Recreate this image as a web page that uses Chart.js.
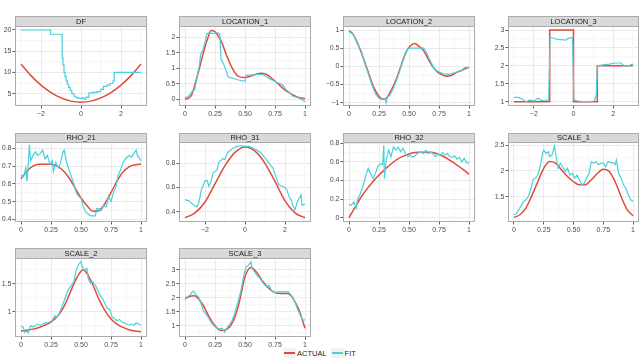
<!DOCTYPE html>
<html>
<head>
<meta charset="utf-8">
<title>Estimated parameters</title>
<script src="https://cdn.jsdelivr.net/npm/chart.js@4.4.1/dist/chart.umd.min.js"></script>
<style>
  body { margin: 0; width: 640px; height: 361px; overflow: hidden; background: #fff; position: relative;
         font-family: "Liberation Sans", Arial, sans-serif; }
  canvas { position: absolute; }
  #legend { position: absolute; top: 348px; left: 283px; font-size: 7.5px; color: #1a1a1a;
            display: flex; align-items: center; }
  .key { width: 13px; height: 10px; background: #f2f2f2; position: relative; margin-right: 1px; }
  .key i { position: absolute; left: 1px; right: 1px; top: 4px; height: 1.6px; }
  .lab { margin-right: 4px; }
</style>
</head>
<body>
<div id="legend">
  <span class="key"><i style="background:#e24a3b"></i></span><span class="lab">ACTUAL</span>
  <span class="key"><i style="background:#48d1de"></i></span><span class="lab">FIT</span>
</div>
<script>
// tick labels
const xTicks01 = ['0', '0.25', '0.50', '0.75', '1'];
const xTicks3 = ['−2', '0', '2'];
const dfYTicks = ['5', '10', '15', '20'];
const loc1YTicks = ['0', '0.5', '1', '1.5', '2'];
const loc2YTicks = ['−1', '−0.5', '0', '0.5', '1'];
const loc3YTicks = ['1', '1.5', '2', '2.5', '3'];
const rho21YTicks = ['0.4', '0.5', '0.6', '0.7', '0.8'];
const rho31YTicks = ['0.4', '0.6', '0.8'];
const rho32YTicks = ['0', '0.2', '0.4', '0.6', '0.8'];
const scale1YTicks = ['1.5', '2', '2.5'];
const scale2YTicks = ['1', '1.5'];
const scale3YTicks = ['1', '1.5', '2', '2.5', '3'];

// series, [x, y] pairs
const dfActual = [[-3,12],[-2.5,9.25],[-2,7],[-1.5,5.25],[-1,4],[-0.5,3.25],[0,3],[0.5,3.25],[1,4],[1.5,5.25],[2,7],[2.5,9.25],[3,12]];
const dfFit = [[-3,20],[-1.52,19],[-0.94,13.5],[-0.9,11.8],[-0.85,10],[-0.8,9],[-0.74,8],[-0.68,7.2],[-0.62,6.5],[-0.54,5.8],[-0.46,5],[-0.36,4.4],[-0.24,4],[-0.1,3.9],[0.05,4],[0.14,3.7],[0.25,4.2],[0.4,5.2],[0.6,5.3],[0.8,5.5],[0.98,6],[1.12,6.7],[1.3,7],[1.45,7.4],[1.6,8],[1.66,10],[3,10]];

const loc1Actual = [[0,0],[0.05,0.1],[0.1,0.72],[0.13,1.15],[0.16,1.6],[0.19,1.98],[0.22,2.22],[0.25,2.18],[0.28,2.02],[0.31,1.8],[0.35,1.38],[0.4,0.96],[0.45,0.73],[0.5,0.7],[0.55,0.75],[0.6,0.82],[0.64,0.84],[0.69,0.78],[0.73,0.65],[0.77,0.52],[0.83,0.31],[0.88,0.18],[0.94,0.07],[1,0.02]];
const loc1Fit = [[0,0.05],[0.03,0.1],[0.06,0.25],[0.08,0.3],[0.1,0.7],[0.12,1.1],[0.13,1.45],[0.15,1.6],[0.17,1.9],[0.18,2.1],[0.2,2.15],[0.24,2.12],[0.27,2.15],[0.29,2.1],[0.3,1.3],[0.32,1.15],[0.34,0.95],[0.36,0.72],[0.4,0.68],[0.44,0.63],[0.47,0.6],[0.5,0.58],[0.51,0.78],[0.56,0.78],[0.6,0.8],[0.64,0.8],[0.67,0.76],[0.71,0.65],[0.74,0.6],[0.76,0.55],[0.78,0.52],[0.81,0.48],[0.84,0.32],[0.87,0.22],[0.9,0.1],[0.94,0.05],[0.97,0],[1,-0.08]];

const loc2Actual = [[0,0.98],[0.03,0.9],[0.06,0.72],[0.1,0.4],[0.14,0.03],[0.17,-0.25],[0.2,-0.53],[0.24,-0.78],[0.28,-0.9],[0.31,-0.88],[0.35,-0.67],[0.39,-0.39],[0.43,-0.02],[0.47,0.35],[0.51,0.56],[0.55,0.63],[0.58,0.56],[0.62,0.44],[0.65,0.26],[0.69,0.03],[0.73,-0.13],[0.77,-0.22],[0.81,-0.27],[0.85,-0.25],[0.89,-0.18],[0.94,-0.11],[1,-0.02]];
const loc2Fit = [[0,0.95],[0.02,0.92],[0.04,0.85],[0.06,0.7],[0.08,0.55],[0.1,0.45],[0.13,0.1],[0.16,-0.2],[0.19,-0.5],[0.22,-0.75],[0.25,-0.88],[0.28,-0.92],[0.3,-0.9],[0.31,-1],[0.32,-0.85],[0.34,-0.8],[0.37,-0.6],[0.4,-0.35],[0.43,-0.05],[0.46,0.25],[0.49,0.5],[0.55,0.5],[0.62,0.5],[0.64,0.42],[0.67,0.2],[0.7,0],[0.72,-0.1],[0.75,-0.15],[0.78,-0.2],[0.82,-0.22],[0.86,-0.2],[0.9,-0.15],[0.94,-0.1],[0.97,-0.02],[1,-0.05]];

const loc3Actual = [[-3,1],[-1.2,3],[0,1],[1.2,2],[3,2]];
const loc3Fit = [[-3,1.12],[-2.8,1.12],[-2.6,1.08],[-2.4,1],[-2.2,1.05],[-2,1.02],[-1.8,1.1],[-1.6,1.03],[-1.4,1.04],[-1.25,1.05],[-1.18,2.8],[-1,2.77],[-0.8,2.74],[-0.6,2.73],[-0.4,2.72],[-0.2,2.78],[-0.05,2.78],[0.02,1.05],[0.2,1.02],[0.5,1],[0.8,1],[1.05,1.02],[1.15,1.2],[1.2,2],[1.5,2.03],[1.8,2.05],[2.1,2.08],[2.4,2.08],[2.55,2],[2.8,2],[2.95,2.05],[3,2]];

const rho21Actual = [[0,0.628],[0.05,0.672],[0.1,0.7],[0.15,0.71],[0.2,0.71],[0.25,0.71],[0.3,0.7],[0.35,0.675],[0.4,0.634],[0.45,0.577],[0.5,0.52],[0.55,0.477],[0.6,0.445],[0.65,0.45],[0.7,0.49],[0.75,0.55],[0.8,0.615],[0.85,0.666],[0.9,0.696],[0.95,0.708],[1,0.71]];
const rho21Fit = [[0,0.65],[0.02,0.64],[0.03,0.66],[0.04,0.69],[0.05,0.615],[0.06,0.7],[0.07,0.82],[0.08,0.73],[0.1,0.76],[0.12,0.78],[0.14,0.76],[0.16,0.77],[0.18,0.79],[0.2,0.74],[0.22,0.76],[0.24,0.71],[0.26,0.73],[0.27,0.67],[0.29,0.72],[0.31,0.69],[0.33,0.72],[0.35,0.78],[0.36,0.79],[0.38,0.72],[0.4,0.68],[0.42,0.64],[0.44,0.6],[0.46,0.55],[0.48,0.53],[0.5,0.52],[0.52,0.47],[0.54,0.44],[0.56,0.43],[0.58,0.42],[0.6,0.42],[0.62,0.42],[0.63,0.46],[0.65,0.46],[0.67,0.45],[0.69,0.48],[0.71,0.47],[0.73,0.53],[0.75,0.5],[0.77,0.55],[0.79,0.58],[0.81,0.65],[0.83,0.68],[0.85,0.72],[0.87,0.74],[0.9,0.76],[0.92,0.75],[0.94,0.77],[0.96,0.79],[0.97,0.76],[0.98,0.75],[1,0.73]];

const rho31Actual = [[-3,0.35],[-2.5,0.39],[-2,0.48],[-1.5,0.63],[-1,0.78],[-0.5,0.89],[0,0.935],[0.5,0.9],[1,0.8],[1.5,0.65],[2,0.49],[2.5,0.39],[3,0.35]];
const rho31Fit = [[-3,0.5],[-2.8,0.49],[-2.6,0.46],[-2.4,0.44],[-2.3,0.48],[-2.2,0.57],[-2,0.655],[-1.9,0.66],[-1.8,0.61],[-1.7,0.65],[-1.6,0.72],[-1.4,0.745],[-1.3,0.81],[-1.1,0.84],[-1,0.83],[-0.9,0.885],[-0.8,0.9],[-0.6,0.925],[-0.4,0.94],[-0.2,0.945],[0,0.94],[0.2,0.94],[0.4,0.925],[0.6,0.91],[0.8,0.885],[1,0.845],[1.2,0.8],[1.4,0.76],[1.6,0.665],[1.7,0.62],[2,0.6],[2.1,0.58],[2.2,0.525],[2.3,0.5],[2.4,0.45],[2.5,0.415],[2.6,0.475],[2.8,0.54],[2.85,0.455],[3,0.46]];

const rho32Actual = [[0,0],[0.05,0.11],[0.1,0.22],[0.15,0.31],[0.2,0.39],[0.25,0.46],[0.3,0.52],[0.35,0.577],[0.4,0.627],[0.45,0.66],[0.5,0.685],[0.55,0.7],[0.6,0.703],[0.65,0.705],[0.7,0.7],[0.75,0.68],[0.8,0.65],[0.85,0.61],[0.9,0.566],[0.95,0.52],[1,0.466]];
const rho32Fit = [[0,0.14],[0.02,0.135],[0.04,0.17],[0.06,0.1],[0.07,0.19],[0.09,0.245],[0.11,0.315],[0.13,0.405],[0.15,0.495],[0.16,0.53],[0.18,0.475],[0.2,0.42],[0.22,0.475],[0.24,0.55],[0.26,0.58],[0.28,0.57],[0.29,0.78],[0.295,0.42],[0.31,0.62],[0.33,0.73],[0.35,0.655],[0.37,0.76],[0.39,0.73],[0.41,0.76],[0.43,0.71],[0.45,0.745],[0.47,0.69],[0.49,0.655],[0.51,0.67],[0.53,0.65],[0.55,0.665],[0.57,0.69],[0.6,0.71],[0.62,0.69],[0.64,0.725],[0.66,0.69],[0.68,0.71],[0.7,0.69],[0.72,0.655],[0.74,0.69],[0.76,0.675],[0.78,0.7],[0.8,0.675],[0.82,0.69],[0.84,0.655],[0.86,0.65],[0.88,0.665],[0.9,0.63],[0.92,0.65],[0.94,0.6],[0.96,0.64],[0.98,0.59],[1,0.59]];

const scale1Actual = [[0,1.1],[0.05,1.15],[0.1,1.28],[0.15,1.52],[0.2,1.79],[0.25,2.05],[0.3,2.18],[0.35,2.15],[0.4,2.02],[0.45,1.89],[0.5,1.79],[0.55,1.73],[0.6,1.73],[0.65,1.83],[0.7,1.95],[0.75,2.03],[0.8,1.99],[0.85,1.79],[0.9,1.5],[0.95,1.25],[1,1.13]];
const scale1Fit = [[0,1.15],[0.02,1.17],[0.04,1.25],[0.06,1.32],[0.08,1.41],[0.1,1.44],[0.12,1.5],[0.14,1.63],[0.16,1.83],[0.18,1.86],[0.2,1.92],[0.22,2.08],[0.24,2.34],[0.25,2.4],[0.27,2.34],[0.29,2.37],[0.3,2.28],[0.32,2.31],[0.34,2.48],[0.35,2.34],[0.37,2.05],[0.39,2.15],[0.41,2.08],[0.43,1.99],[0.45,2.05],[0.47,1.92],[0.49,1.95],[0.51,1.86],[0.53,1.92],[0.55,1.83],[0.57,1.73],[0.59,1.76],[0.61,1.86],[0.63,1.95],[0.65,2.18],[0.67,2.15],[0.69,2.18],[0.71,2.12],[0.73,2.15],[0.75,2.15],[0.77,2.08],[0.79,2.18],[0.81,2.16],[0.83,2.16],[0.85,2.12],[0.86,2.21],[0.88,1.95],[0.9,1.86],[0.92,1.73],[0.94,1.66],[0.96,1.54],[0.98,1.44],[1,1.41]];

const scale2Actual = [[0,0.657],[0.05,0.67],[0.1,0.69],[0.15,0.72],[0.2,0.76],[0.25,0.82],[0.3,0.91],[0.35,1.06],[0.4,1.29],[0.45,1.54],[0.5,1.72],[0.52,1.74],[0.55,1.68],[0.6,1.47],[0.65,1.22],[0.7,1.02],[0.75,0.87],[0.8,0.78],[0.85,0.72],[0.9,0.68],[0.95,0.657],[1,0.645]];
const scale2Fit = [[0,0.75],[0.02,0.72],[0.03,0.63],[0.05,0.66],[0.06,0.62],[0.08,0.75],[0.1,0.73],[0.12,0.75],[0.14,0.78],[0.16,0.76],[0.18,0.78],[0.2,0.8],[0.22,0.8],[0.24,0.82],[0.26,0.84],[0.28,0.93],[0.3,0.9],[0.32,0.98],[0.34,1.08],[0.36,1.2],[0.38,1.32],[0.4,1.41],[0.42,1.47],[0.44,1.53],[0.46,1.74],[0.48,1.84],[0.5,1.89],[0.51,1.8],[0.53,1.74],[0.55,1.77],[0.56,1.59],[0.58,1.5],[0.6,1.53],[0.62,1.47],[0.64,1.38],[0.66,1.29],[0.68,1.23],[0.7,1.14],[0.72,1.06],[0.74,1.04],[0.76,0.9],[0.78,0.88],[0.8,0.84],[0.82,0.86],[0.84,0.82],[0.86,0.8],[0.88,0.78],[0.9,0.76],[0.92,0.78],[0.94,0.76],[0.96,0.8],[0.98,0.78],[1,0.76]];

const scale3Actual = [[0,1.98],[0.05,2.06],[0.08,2.07],[0.1,2.02],[0.15,1.74],[0.2,1.33],[0.25,1],[0.3,0.83],[0.35,0.88],[0.4,1.15],[0.45,1.8],[0.5,2.75],[0.55,3.08],[0.6,2.89],[0.65,2.57],[0.7,2.33],[0.75,2.18],[0.8,2.15],[0.85,2.15],[0.88,2.09],[0.9,1.98],[0.95,1.56],[1,0.91]];
const scale3Fit = [[0,1.92],[0.02,2.04],[0.04,2.09],[0.06,2.21],[0.07,2.24],[0.09,2.12],[0.11,2.04],[0.13,1.86],[0.15,1.56],[0.17,1.44],[0.19,1.33],[0.21,1.17],[0.23,1.05],[0.25,0.97],[0.27,0.91],[0.29,0.89],[0.31,0.91],[0.33,0.77],[0.35,0.93],[0.37,1.03],[0.39,1.17],[0.41,1.38],[0.43,1.68],[0.45,1.98],[0.47,2.33],[0.49,2.8],[0.51,3.1],[0.53,3.16],[0.55,3.28],[0.56,3.04],[0.58,2.92],[0.6,2.8],[0.62,2.71],[0.64,2.59],[0.66,2.47],[0.68,2.39],[0.7,2.45],[0.72,2.27],[0.74,2.21],[0.76,2.19],[0.78,2.21],[0.8,2.21],[0.82,2.21],[0.84,2.21],[0.86,2.21],[0.88,2.12],[0.9,1.98],[0.92,1.8],[0.94,1.56],[0.96,1.38],[0.98,1.21],[1,1.21]];

// facet layout (page pixels)
const colLeft = [15, 179, 343, 508];
const colRight = [147, 311, 475, 639];
const rowStrip = [16, 133, 248];
const rowTop = [26, 142, 258];
const rowBottom = [106, 222, 337];

const RED = '#e24a3b', CYAN = '#48d1de';
const FONT = 'Liberation Sans';

const panels = [
  { title: 'DF', row: 0, col: 0, actual: dfActual, fit: dfFit, xt: xTicks3, yt: dfYTicks, x: [-3.3, 3.3], y: [2.1, 20.94], fitStep: true },
  { title: 'LOCATION_1', row: 0, col: 1, actual: loc1Actual, fit: loc1Fit, xt: xTicks01, yt: loc1YTicks, x: [-0.05, 1.05], y: [-0.216, 2.364] },
  { title: 'LOCATION_2', row: 0, col: 2, actual: loc2Actual, fit: loc2Fit, xt: xTicks01, yt: loc2YTicks, x: [-0.05, 1.05], y: [-1.09, 1.11] },
  { title: 'LOCATION_3', row: 0, col: 3, actual: loc3Actual, fit: loc3Fit, xt: xTicks3, yt: loc3YTicks, x: [-3.3, 3.3], y: [0.88, 3.113], actStep: true },
  { title: 'RHO_21', row: 1, col: 0, actual: rho21Actual, fit: rho21Fit, xt: xTicks01, yt: rho21YTicks, x: [-0.05, 1.05], y: [0.385, 0.8355] },
  { title: 'RHO_31', row: 1, col: 1, actual: rho31Actual, fit: rho31Fit, xt: xTicks3, yt: rho31YTicks, x: [-3.3, 3.3], y: [0.315, 0.976] },
  { title: 'RHO_32', row: 1, col: 2, actual: rho32Actual, fit: rho32Fit, xt: xTicks01, yt: rho32YTicks, x: [-0.05, 1.05], y: [-0.046, 0.814] },
  { title: 'SCALE_1', row: 1, col: 3, actual: scale1Actual, fit: scale1Fit, xt: xTicks01, yt: scale1YTicks, x: [-0.05, 1.05], y: [1.01, 2.56] },
  { title: 'SCALE_2', row: 2, col: 0, actual: scale2Actual, fit: scale2Fit, xt: xTicks01, yt: scale2YTicks, x: [-0.05, 1.05], y: [0.55, 1.955] },
  { title: 'SCALE_3', row: 2, col: 1, actual: scale3Actual, fit: scale3Fit, xt: xTicks01, yt: scale3YTicks, x: [-0.05, 1.05], y: [0.6, 3.415] }
];

const num = s => parseFloat(s.replace('−', '-'));
const pts = arr => arr.map(p => ({ x: p[0], y: p[1] }));

// minor grid, panel border and grey strip with the facet name
const facetPlugin = {
  id: 'facet',
  beforeDatasetsDraw(chart) {
    const { ctx, chartArea: a, scales } = chart;
    ctx.save();
    ctx.strokeStyle = '#f2f2f2';
    ctx.lineWidth = 0.7;
    ['x', 'y'].forEach(id => {
      const s = scales[id];
      const v = s.ticks.map(t => t.value);
      const step = v[1] - v[0];
      const minors = [v[0] - step / 2].concat(v.map(t => t + step / 2)).filter(m => m > s.min && m < s.max);
      minors.forEach(m => {
        const p = s.getPixelForValue(m);
        ctx.beginPath();
        if (id === 'x') { ctx.moveTo(p, a.top); ctx.lineTo(p, a.bottom); }
        else { ctx.moveTo(a.left, p); ctx.lineTo(a.right, p); }
        ctx.stroke();
      });
    });
    ctx.restore();
  },
  afterDraw(chart, args, opts) {
    const { ctx, chartArea: a } = chart;
    ctx.save();
    ctx.strokeStyle = '#ababab';
    ctx.lineWidth = 1;
    ctx.strokeRect(a.left + 0.5, a.top + 0.5, a.width - 1, a.height - 1);
    ctx.fillStyle = '#d9d9d9';
    ctx.fillRect(a.left, 0, a.width, a.top);
    ctx.strokeRect(a.left + 0.5, 0.5, a.width - 1, a.top);
    ctx.fillStyle = '#1a1a1a';
    ctx.font = '7.5px "' + FONT + '"';
    ctx.textAlign = 'center';
    ctx.textBaseline = 'middle';
    ctx.fillText(opts.title, (a.left + a.right) / 2, a.top / 2 + 0.5);
    ctx.restore();
  }
};

const AXIS_W = 40, AXIS_H = 14;

function axis(labels, range, vertical) {
  return {
    type: 'linear',
    min: range[0],
    max: range[1],
    bounds: 'data',
    afterBuildTicks: s => { s.ticks = labels.map(l => ({ value: num(l) })); },
    afterFit: s => { if (vertical) s.width = AXIS_W; else s.height = AXIS_H; },
    border: { display: false },
    grid: { color: '#e8e8e8', lineWidth: 0.9, tickLength: 2.5, tickColor: '#333333', tickWidth: 0.8 },
    ticks: {
      callback: (v, i) => labels[i],
      autoSkip: false,
      maxRotation: 0,
      padding: 1,
      color: '#4d4d4d',
      font: { family: FONT, size: 7 }
    }
  };
}

panels.forEach(p => {
  const left = colLeft[p.col], right = colRight[p.col];
  const canvas = document.createElement('canvas');
  const w = AXIS_W + (right - left) + 2;
  const h = rowBottom[p.row] - rowStrip[p.row] + AXIS_H;
  canvas.width = w;
  canvas.height = h;
  canvas.style.left = (left - AXIS_W) + 'px';
  canvas.style.top = rowStrip[p.row] + 'px';
  document.body.appendChild(canvas);

  new Chart(canvas.getContext('2d'), {
    type: 'line',
    data: {
      datasets: [
        { label: 'FIT', data: pts(p.fit), borderColor: CYAN, borderWidth: 1.2, pointRadius: 0,
          stepped: p.fitStep ? 'before' : false, order: 0 },
        { label: 'ACTUAL', data: pts(p.actual), borderColor: RED, borderWidth: 1.5, pointRadius: 0,
          stepped: p.actStep ? 'before' : false, cubicInterpolationMode: 'monotone', tension: 0.4, order: 1 }
      ]
    },
    options: {
      responsive: false,
      animation: false,
      devicePixelRatio: 1,
      layout: { padding: { top: rowTop[p.row] - rowStrip[p.row], right: 2, left: 0, bottom: 0 } },
      scales: { x: axis(p.xt, p.x, false), y: axis(p.yt, p.y, true) },
      plugins: { legend: { display: false }, tooltip: { enabled: false }, facet: { title: p.title } }
    },
    plugins: [facetPlugin]
  });
});
</script>
</body>
</html>
